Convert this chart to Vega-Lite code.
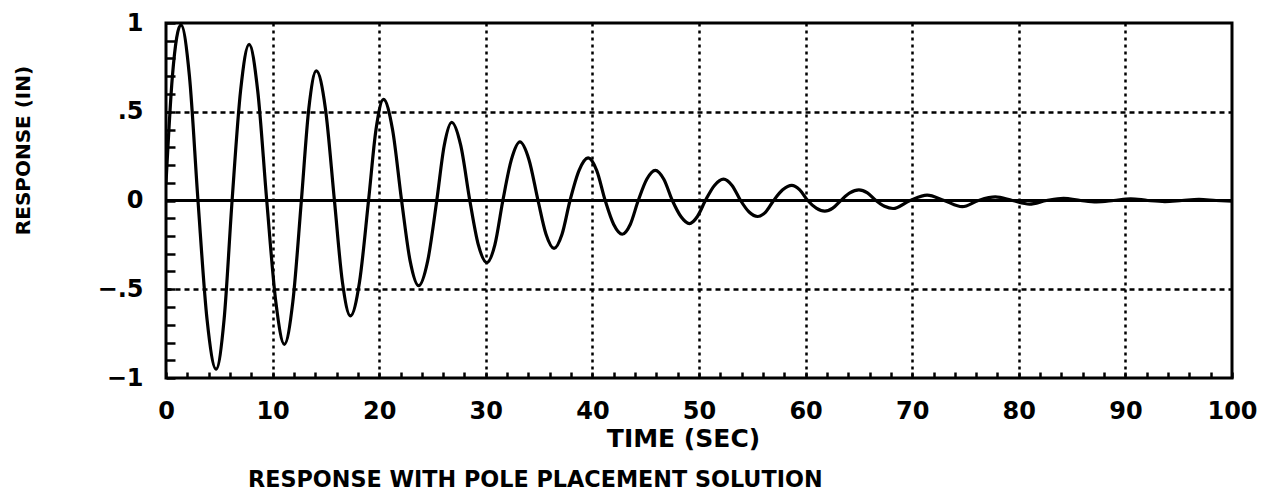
{
  "$schema": "https://vega.github.io/schema/vega-lite/v6.json",
  "autosize": "none",
  "width": 1066,
  "height": 355,
  "padding": {"left": 166, "top": 23, "right": 52, "bottom": 126},
  "background": "white",
  "config": {
    "view": {"stroke": "black", "strokeWidth": 3},
    "font": "DejaVu Sans"
  },
  "title": {
    "text": "RESPONSE WITH POLE PLACEMENT SOLUTION",
    "orient": "bottom",
    "anchor": "start",
    "frame": "group",
    "dx": 82,
    "offset": 18,
    "font": "DejaVu Sans",
    "fontSize": 22.3,
    "fontWeight": "bold",
    "color": "black"
  },
  "data": {
    "values": [
      {"t": 0, "r": 0.1}, {"t": 0.6, "r": 0.7}, {"t": 1.4, "r": 0.99},
      {"t": 2.2, "r": 0.70}, {"t": 3.0, "r": 0}, {"t": 3.85, "r": -0.67}, {"t": 4.7, "r": -0.95},
      {"t": 5.45, "r": -0.67}, {"t": 6.2, "r": 0}, {"t": 7.0, "r": 0.62}, {"t": 7.8, "r": 0.88},
      {"t": 8.6, "r": 0.62}, {"t": 9.45, "r": 0}, {"t": 10.3, "r": -0.57}, {"t": 11.1, "r": -0.81},
      {"t": 11.9, "r": -0.57}, {"t": 12.7, "r": 0}, {"t": 13.4, "r": 0.52}, {"t": 14.1, "r": 0.73},
      {"t": 14.95, "r": 0.52}, {"t": 15.8, "r": 0}, {"t": 16.55, "r": -0.46}, {"t": 17.3, "r": -0.65},
      {"t": 18.15, "r": -0.46}, {"t": 19.0, "r": 0}, {"t": 19.7, "r": 0.40}, {"t": 20.4, "r": 0.57},
      {"t": 21.25, "r": 0.40}, {"t": 22.1, "r": 0}, {"t": 22.9, "r": -0.34}, {"t": 23.7, "r": -0.48},
      {"t": 24.55, "r": -0.34}, {"t": 25.4, "r": 0}, {"t": 26.1, "r": 0.31}, {"t": 26.8, "r": 0.44},
      {"t": 27.65, "r": 0.31}, {"t": 28.5, "r": 0}, {"t": 29.3, "r": -0.25}, {"t": 30.1, "r": -0.35},
      {"t": 30.85, "r": -0.25}, {"t": 31.6, "r": 0}, {"t": 32.4, "r": 0.23}, {"t": 33.2, "r": 0.33},
      {"t": 34.05, "r": 0.23}, {"t": 34.9, "r": 0}, {"t": 35.65, "r": -0.19}, {"t": 36.4, "r": -0.27},
      {"t": 37.15, "r": -0.19}, {"t": 37.9, "r": 0}, {"t": 38.75, "r": 0.17}, {"t": 39.6, "r": 0.24},
      {"t": 40.4, "r": 0.17}, {"t": 41.2, "r": 0}, {"t": 42.0, "r": -0.135}, {"t": 42.8, "r": -0.19},
      {"t": 43.55, "r": -0.135}, {"t": 44.3, "r": 0}, {"t": 45.1, "r": 0.12}, {"t": 45.9, "r": 0.17},
      {"t": 46.7, "r": 0.12}, {"t": 47.5, "r": 0}, {"t": 48.3, "r": -0.09}, {"t": 49.1, "r": -0.13},
      {"t": 49.85, "r": -0.09}, {"t": 50.6, "r": 0}, {"t": 51.45, "r": 0.085}, {"t": 52.3, "r": 0.12},
      {"t": 53.1, "r": 0.085}, {"t": 53.9, "r": 0}, {"t": 54.7, "r": -0.065}, {"t": 55.5, "r": -0.09},
      {"t": 56.25, "r": -0.065}, {"t": 57.0, "r": 0}, {"t": 57.85, "r": 0.06}, {"t": 58.7, "r": 0.085},
      {"t": 59.45, "r": 0.06}, {"t": 60.2, "r": 0}, {"t": 61.0, "r": -0.043}, {"t": 61.8, "r": -0.06},
      {"t": 62.55, "r": -0.043}, {"t": 63.3, "r": 0}, {"t": 64.15, "r": 0.043}, {"t": 65.0, "r": 0.06},
      {"t": 65.8, "r": 0.043}, {"t": 66.6, "r": 0}, {"t": 67.4, "r": -0.032}, {"t": 68.2, "r": -0.045},
      {"t": 69.8, "r": 0}, {"t": 71.4, "r": 0.03}, {"t": 73.0, "r": 0}, {"t": 74.7, "r": -0.035},
      {"t": 76.2, "r": 0}, {"t": 77.8, "r": 0.02}, {"t": 79.4, "r": 0}, {"t": 81.0, "r": -0.02},
      {"t": 82.6, "r": 0}, {"t": 84.2, "r": 0.012}, {"t": 85.8, "r": 0}, {"t": 87.3, "r": -0.008},
      {"t": 88.9, "r": 0}, {"t": 90.5, "r": 0.01}, {"t": 92.1, "r": 0}, {"t": 93.7, "r": -0.006},
      {"t": 95.3, "r": 0}, {"t": 96.9, "r": 0.006}, {"t": 98.5, "r": 0}, {"t": 100, "r": -0.004}
    ]
  },
  "layer": [
    {
      "mark": {"type": "rule", "color": "black", "strokeWidth": 2.5},
      "encoding": {"y": {"datum": 0, "type": "quantitative", "scale": {"domain": [-1, 1], "nice": false}}}
    },
    {
      "mark": {"type": "line", "color": "black", "strokeWidth": 3.2, "interpolate": "monotone", "clip": true},
      "encoding": {
        "x": {
          "field": "t", "type": "quantitative",
          "scale": {"domain": [0, 100], "nice": false, "zero": false},
          "axis": {
            "title": "TIME (SEC)",
            "titleFont": "DejaVu Sans", "titleFontSize": 25, "titleFontWeight": "bold", "titleColor": "black",
            "titleX": 517, "titleY": 60, "titleAlign": "center", "titleBaseline": "middle",
            "tickCount": 200,
            "values": [0,2,4,6,8,10,12,14,16,18,20,22,24,26,28,30,32,34,36,38,40,42,44,46,48,50,52,54,56,58,60,62,64,66,68,70,72,74,76,78,80,82,84,86,88,90,92,94,96,98,100],
            "labelExpr": "datum.value % 10 == 0 ? format(datum.value, 'd') : ''",
            "labelFont": "DejaVu Sans", "labelFontSize": 24, "labelFontWeight": "bold", "labelColor": "black",
            "labelPadding": 27, "labelFlush": false, "labelOverlap": false,
            "domain": false,
            "ticks": true, "tickSize": -6, "tickWidth": 2.5, "tickColor": "black",
            "grid": true, "gridColor": "black", "gridWidth": 2.5, "gridDash": [3, 4],
            "gridOpacity": {"condition": {"test": "datum.value % 10 == 0 && datum.value > 0 && datum.value < 100", "value": 1}, "value": 0}
          }
        },
        "y": {
          "field": "r", "type": "quantitative",
          "scale": {"domain": [-1, 1], "nice": false},
          "axis": {
            "title": "RESPONSE (IN)",
            "titleFont": "DejaVu Sans", "titleFontSize": 20, "titleFontWeight": "bold", "titleColor": "black",
            "titleX": -143, "titleY": 127, "titleAngle": 270, "titleAlign": "center", "titleBaseline": "middle",
            "tickCount": 200,
            "values": [-1,-0.9,-0.8,-0.7,-0.6,-0.5,-0.4,-0.3,-0.2,-0.1,0,0.1,0.2,0.3,0.4,0.5,0.6,0.7,0.8,0.9,1],
            "labelExpr": "abs(datum.value*2 - round(datum.value*2)) < 0.001 ? replace(format(datum.value, '~g'), '0.', '.') : ''",
            "labelFont": "DejaVu Sans", "labelFontSize": 24, "labelFontWeight": "bold", "labelColor": "black",
            "labelPadding": 32, "labelFlush": false, "labelOverlap": false,
            "domain": false,
            "ticks": true, "tickSize": -9, "tickWidth": 2.5, "tickColor": "black",
            "grid": true, "gridColor": "black", "gridWidth": 2.5, "gridDash": [5, 4],
            "gridOpacity": {"condition": {"test": "abs(abs(datum.value) - 0.5) < 0.001", "value": 1}, "value": 0}
          }
        }
      }
    }
  ]
}
